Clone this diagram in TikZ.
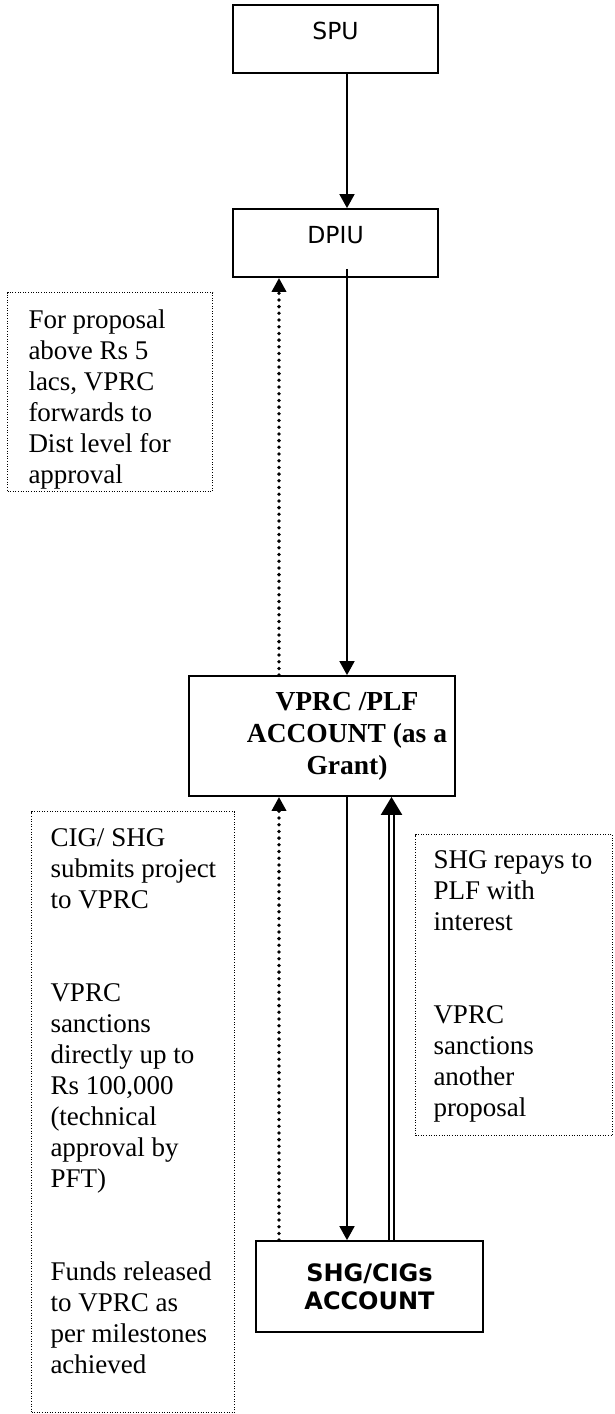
\documentclass[tikz,border=0pt]{standalone}
\usepackage{fontspec}
\setmainfont{Liberation Serif}
\newfontfamily\dejavu{DejaVu Sans}
\usetikzlibrary{arrows.meta,calc}
\begin{document}
\begin{tikzpicture}[x=1pt,y=-1pt,
  box/.style={draw, line width=1.8pt, inner sep=0pt},
  hdr/.style={box, minimum width=205pt, minimum height=68pt,
    font=\dejavu\fontsize{23.5}{28}\selectfont, text height=17pt, text depth=17pt},
  note/.style={draw, line width=1pt, dash pattern=on 1pt off 1.6pt, inner sep=0pt, anchor=north west},
  arr/.style={line width=1.8pt, -{Triangle[length=14pt,width=15pt]}},
  dotarr/.style={line width=3.8pt, line cap=round, dash pattern=on 0pt off 6.7pt,
    -{Triangle[length=14pt,width=14pt]}},
  dblarr/.style={double, double distance=3.2pt, line width=2.3pt,
    -{Triangle[length=18pt,width=21pt]}},
]
\useasboundingbox (0,0) rectangle (614,1414);

% main boxes
\node[hdr] (SPU) at (335.5,39) {SPU};
\node[hdr] (DPIU) at (335.5,243) {DPIU};
\node[box, minimum width=266pt, minimum height=120pt,
  font=\bfseries\fontsize{27.5}{32}\selectfont] (VPRC) at (322,736)
  {\hspace*{50pt}\begin{tabular}{@{}c@{}}VPRC /PLF\\ACCOUNT (as a\\Grant)\end{tabular}};
\node[box, minimum width=227pt, minimum height=91pt, align=center,
  font=\dejavu\bfseries\fontsize{24}{28}\selectfont] (SHG) at (369.5,1286.5)
  {SHG/CIGs\\ACCOUNT};

% notes
\node[note] (n1) at (7,292) {\parbox[t][199pt][t]{205pt}{\fontsize{27}{31}\selectfont\raggedright\leftskip=21pt\relax
  \rule{0pt}{36pt}For proposal\\above Rs 5\\lacs, VPRC\\forwards to\\Dist level for\\approval}};
\node[note] (n2) at (31,811) {\parbox[t][601pt][t]{203pt}{\fontsize{27}{31}\selectfont\raggedright\leftskip=19pt\relax
  \rule{0pt}{35pt}CIG/ SHG\\submits project\\to VPRC\\[62pt]VPRC\\sanctions\\directly up to\\Rs 100,000\\(technical\\approval by\\PFT)\\[62pt]Funds released\\to VPRC as\\per milestones\\achieved}};
\node[note] (n3) at (415,834) {\parbox[t][301pt][t]{197pt}{\fontsize{27}{31}\selectfont\raggedright\leftskip=18pt\relax
  \rule{0pt}{34pt}SHG repays to\\PLF with\\interest\\[62pt]VPRC\\sanctions\\another\\proposal}};

% connector x positions
\coordinate (xa) at (347,0);
\coordinate (xd) at (279,0);
\coordinate (xe) at (391.5,0);

\draw[arr] (SPU.south -| xa) -- (DPIU.north -| xa);
\draw[arr] ($(DPIU.south -| xa)+(0,-9)$) -- (VPRC.north -| xa);
\draw[dotarr] (VPRC.north -| xd) -- (DPIU.south -| xd);
\draw[arr] (VPRC.south -| xa) -- (SHG.north -| xa);
\draw[dotarr] (SHG.north -| xd) -- (VPRC.south -| xd);
\draw[dblarr] (SHG.north -| xe) -- (VPRC.south -| xe);
\end{tikzpicture}
\end{document}
